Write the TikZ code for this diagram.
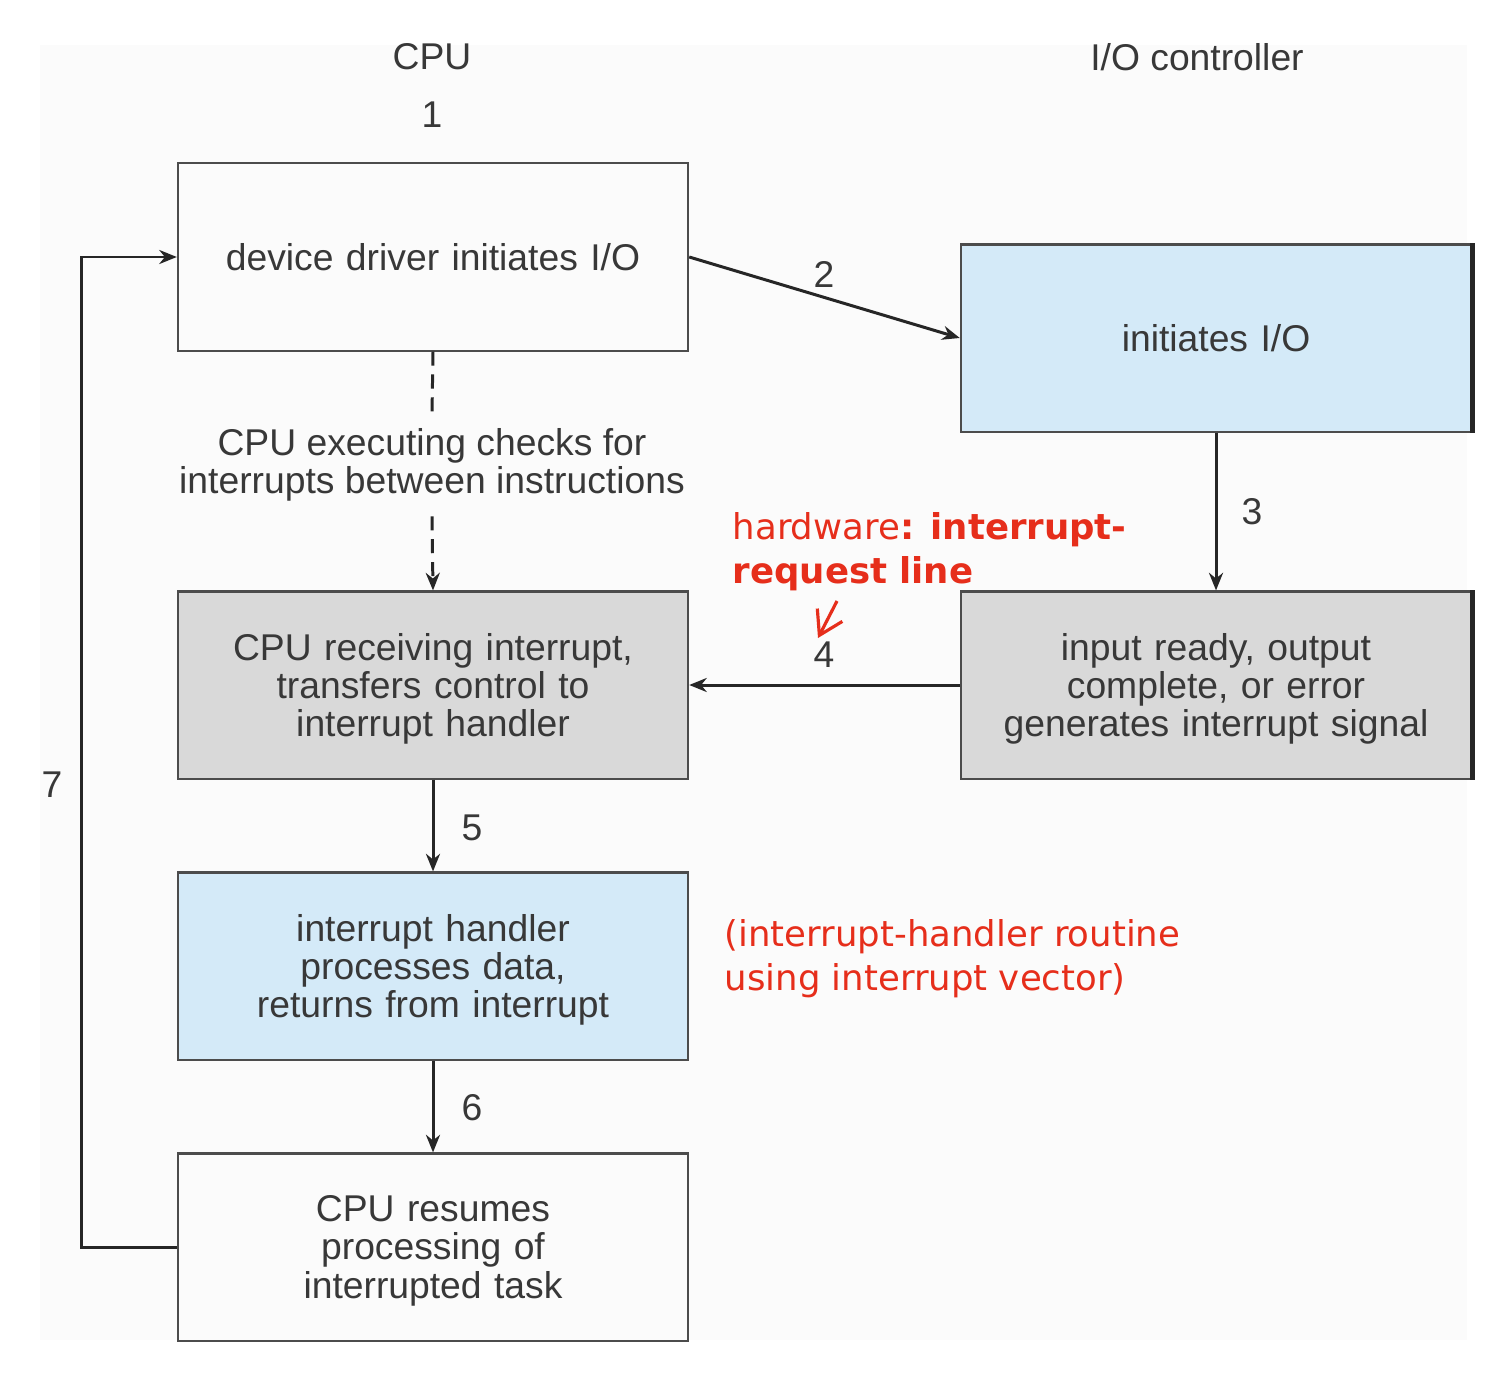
\documentclass[tikz,border=0pt]{standalone}
\usepackage{fontspec}
\setmainfont{Liberation Sans}
\newfontfamily\notefont{DejaVu Sans}
\usetikzlibrary{arrows.meta,positioning}
\definecolor{iofill}{HTML}{D4EAF8}
\definecolor{irqfill}{HTML}{D9D9D9}
\definecolor{notered}{HTML}{E62E1B}
\definecolor{inkgray}{HTML}{383838}
\definecolor{pagetint}{HTML}{FBFBFB}

\begin{document}
\begin{tikzpicture}[x=0.01cm, y=-0.01cm,
  stage/.style={rectangle, draw=inkgray!90, line width=0.6pt,
                minimum width=5.1cm, minimum height=1.87cm, inner sep=0pt,
                text width=4.8cm, align=center, text=inkgray,
                font=\fontsize{10.6}{10.9}\selectfont},
  threeline/.style={text depth=21.9pt},
  lbl/.style={text=inkgray, inner sep=1pt, align=center,
              font=\fontsize{10.6}{10.9}\selectfont},
  note/.style={text=notered, inner sep=0pt, align=left,
               font=\notefont\fontsize{10.1}{12.6}\selectfont},
  arr/.style={-{Stealth[length=5pt,width=4pt]}, line width=0.85pt, draw=black!85},
  dashedarr/.style={arr, dashed, dash pattern=on 4pt off 2.5pt},
  redarr/.style={-{Straight Barb[length=6.5pt,width=8pt]}, line width=0.9pt, draw=notered}
]
\useasboundingbox (0,0) rectangle (1500,1379);
\fill[pagetint] (40,45) rectangle (1467,1340);

% Column headings
\node[lbl] (cpuhead) at (432,57) {CPU};
\node[lbl] (iohead) at (1197,57) {I/O controller};
\node[lbl] (n1) at (432,115) {1};

% CPU side
\node[stage] (drv) at (433,257) {device driver initiates I/O};
\node[lbl, inner sep=4pt] (checks) at (432,465) {CPU executing checks for\\interrupts between instructions};
\node[stage, threeline, fill=irqfill] (recv) at (433,685) {CPU receiving interrupt,\\transfers control to\\interrupt handler};
\node[stage, threeline, fill=iofill] (handler) at (433,966) {interrupt handler\\processes data,\\returns from interrupt};
\node[stage, threeline] (resume) at (433,1247) {CPU resumes\\processing of\\interrupted task};

% I/O controller side
\node[stage, fill=iofill] (init) at (1216,338) {initiates I/O};
\node[stage, threeline, fill=irqfill] (ready) at (1216,685) {input ready, output\\complete, or error\\generates interrupt signal};
\draw[line width=1.3pt, black!85] (init.north east) -- (init.south east);
\draw[line width=1.3pt, black!85] (ready.north east) -- (ready.south east);

% Step numbers
\node[lbl] (n2) at (824,274) {2};
\node[lbl] (n3) at (1252,512) {3};
\node[lbl] (n4) at (824,655) {4};
\node[lbl] (n5) at (472,828) {5};
\node[lbl] (n6) at (472,1108) {6};
\node[lbl] (n7) at (52,785) {7};

% Arrows
\draw[arr] (drv.east) -- (init.west);
\draw[arr] (init.south) -- (ready.north);
\draw[arr] (ready.west) -- (recv.east);
\draw[arr] (recv.south) -- (handler.north);
\draw[arr] (handler.south) -- (resume.north);
\draw[arr] (resume.west) -- ++(-95,0) |- (drv.west);
\draw[dashedarr, -] (drv.south) -- (checks.north);
\draw[dashedarr] (checks.south) -- (recv.north);

% Red notes
\node[note, anchor=west] (hwnote) at (732,552) {hardware\textbf{: interrupt-}\\\textbf{request line}};
\node[note, anchor=west] (vecnote) at (724,959) {(interrupt-handler routine\\using interrupt vector)};
\coordinate (irqtail) at (837,601);
\coordinate (irqtip) at (818,638);
\draw[redarr] (irqtail) -- (irqtip);
\end{tikzpicture}
\end{document}
